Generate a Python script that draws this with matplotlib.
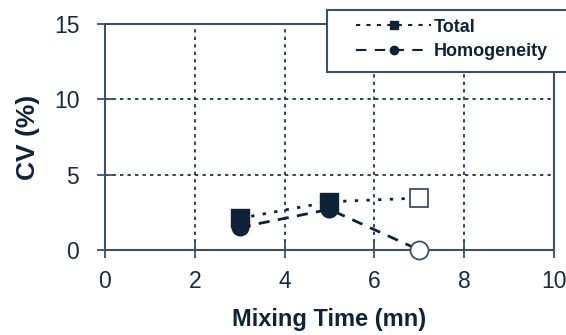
import matplotlib
matplotlib.use("Agg")
import matplotlib.pyplot as plt
from matplotlib.lines import Line2D
from matplotlib.patches import Rectangle

plt.rcParams["font.family"] = ["Liberation Sans", "DejaVu Sans"]

# mixing time (mn) and coefficient of variation (%)
mixing_time = [3, 5, 7]
cv_total = [2.1, 3.2, 3.45]
cv_homogeneity = [1.5, 2.7, 0.0]

navy = "#0e2338"
slate = "#3b5166"

fig = plt.figure(figsize=(5.66, 3.35), dpi=100)
ax = fig.add_axes([0.1855, 0.2537, 0.7932, 0.6747])

# connecting lines
ax.plot(mixing_time, cv_total, color=navy, lw=2, linestyle=(0, (1.2, 3)), zorder=3)
ax.plot(mixing_time, cv_homogeneity, color=navy, lw=2, linestyle=(0, (4, 3)), zorder=3)

# filled markers for the first two times, open marker for the last one
ax.plot(mixing_time[:2], cv_total[:2], "s", ms=13, color=navy, zorder=4)
ax.plot(mixing_time[:2], cv_homogeneity[:2], "o", ms=12, color=navy, zorder=4)
ax.plot(mixing_time[2:], cv_total[2:], "s", ms=13, mfc="white", mec=slate, mew=1.3, zorder=4)
ax.plot(mixing_time[2:], cv_homogeneity[2:], "o", ms=13, mfc="white", mec=slate, mew=1.3,
        zorder=5, clip_on=False)

ax.set_xlim(0, 10)
ax.set_ylim(0, 15)
ax.set_xticks([0, 2, 4, 6, 8, 10])
ax.set_yticks([0, 5, 10, 15])
ax.grid(True, color=navy, lw=1.2, linestyle=(0, (2, 2.5)))
for s in ax.spines.values():
    s.set_color(slate)
    s.set_linewidth(1.5)
ax.tick_params(direction="inout", length=11, width=1.3, color=slate,
               labelsize=16.5, labelcolor="#1a2a3a")
ax.tick_params(axis="y", pad=13)
ax.tick_params(axis="x", pad=9)

ax.set_xlabel("Mixing Time (mn)", fontsize=17, fontweight="bold", color=navy, labelpad=11)
ax.set_ylabel("CV (%)", fontsize=19, fontweight="bold", color=navy, labelpad=10)

# legend box running off the right edge
box = Rectangle((327 / 566, 1 - 72 / 335), 0.5, 62 / 335, transform=fig.transFigure,
                facecolor="white", edgecolor=slate, lw=1.5, zorder=10, clip_on=False)
fig.patches.append(box)

handles = [
    Line2D([], [], color=navy, lw=1.5, linestyle=(0, (2, 3)), marker="s", ms=6),
    Line2D([], [], color=navy, lw=1.5, linestyle=(0, (5, 4)), marker="o", ms=6),
]
leg = fig.legend(handles, ["Total", "Homogeneity"], loc="upper left",
                 bbox_to_anchor=(343 / 566, 1 - 6 / 335), frameon=False,
                 prop={"weight": "bold", "size": 13}, handlelength=4.2,
                 handletextpad=0.1, labelspacing=0.4, borderpad=0.2)
leg.set_zorder(11)
for t in leg.get_texts():
    t.set_color(navy)

fig.savefig("out.png", dpi=100)
